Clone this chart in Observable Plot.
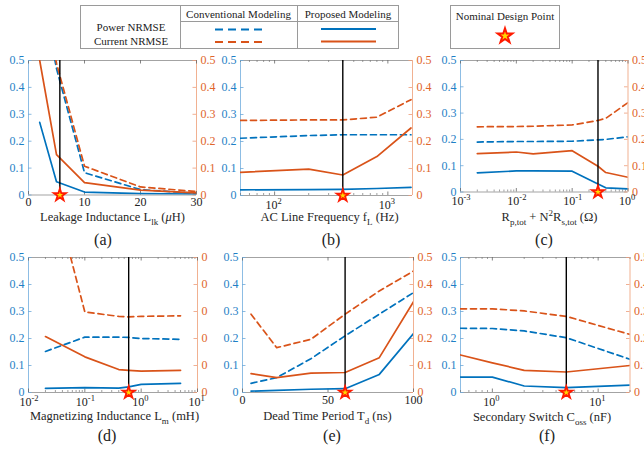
<!DOCTYPE html>
<html><head><meta charset="utf-8">
<script src="https://cdn.jsdelivr.net/npm/d3@7"></script>
<script src="https://cdn.jsdelivr.net/npm/@observablehq/plot@0.6"></script>
<style>
body{margin:0;background:#fff;}
#c{position:relative;width:644px;height:454px;overflow:hidden;font-family:"Liberation Serif","Times New Roman",serif;background:#fff;}
.t{position:absolute;white-space:nowrap;transform:translate(-50%,-50%);font-size:12.5px;color:#262626;line-height:1;}
.pl{position:absolute;white-space:nowrap;transform:translate(-50%,-50%);font-size:16px;color:#222;line-height:1;}
.sb{font-size:9px;vertical-align:-4px;}
.sp{font-size:9px;vertical-align:5px;}
</style></head><body><div id="c"></div>
<script>
// ---------- shared ----------
const yTicks = [0, 0.1, 0.2, 0.3, 0.4, 0.5];
const yTickLabels = ["0", "0.1", "0.2", "0.3", "0.4", "0.5"];
const dRightLabels = ["0", "0", "0", "0", "0", "0"];
const legendHeaders = ["Conventional Modeling", "Proposed Modeling"];
const legendRows = ["Power NRMSE", "Current NRMSE"];
const nominalLabel = "Nominal Design Point";
const panelLabels = ["(a)", "(b)", "(c)", "(d)", "(e)", "(f)"];

// ---------- (a) Leakage inductance ----------
const aX = [2, 5, 10, 20, 30];
const aPowerConv = [0.8, 0.47, 0.083, 0.02, 0.006];
const aCurrentConv = [0.8, 0.49, 0.107, 0.03, 0.013];
const aPowerProp = [0.27, 0.049, 0.011, 0.005, 0.003];
const aCurrentProp = [0.5, 0.15, 0.046, 0.018, 0.008];
const aNominal = 5.6;
const aTicks = [0, 10, 20, 30];
const aTickLabels = ["0", "10", "20", "30"];

// ---------- (b) AC line frequency ----------
const bX = [50, 200, 400, 800, 1600];
const bPowerConv = [0.212, 0.222, 0.225, 0.225, 0.225];
const bCurrentConv = [0.278, 0.28, 0.28, 0.29, 0.355];
const bPowerProp = [0.021, 0.022, 0.023, 0.026, 0.03];
const bCurrentProp = [0.086, 0.098, 0.076, 0.144, 0.25];
const bNominal = 400;
const bTicks = [100, 1000];
const bTickExp = ["2", "3"];

// ---------- (c) winding resistance ----------
const cX = [0.002, 0.01, 0.02, 0.1, 0.29, 0.4, 1];
const cPowerConv = [0.19, 0.192, 0.192, 0.193, 0.198, 0.2, 0.21];
const cCurrentConv = [0.248, 0.249, 0.25, 0.255, 0.272, 0.28, 0.34];
const cPowerProp = [0.073, 0.08, 0.08, 0.079, 0.03, 0.016, 0.012];
const cCurrentProp = [0.146, 0.152, 0.145, 0.157, 0.098, 0.074, 0.056];
const cNominal = 0.29;
const cTicks = [0.001, 0.01, 0.1, 1];
const cTickExp = ["-3", "-2", "-1", "0"];

// ---------- (d) magnetizing inductance ----------
const dX = [0.02, 0.1, 0.4, 0.6, 1, 5];
const dPowerConv = [0.152, 0.205, 0.205, 0.204, 0.2, 0.197];
const dCurrentConv = [0.86, 0.298, 0.282, 0.28, 0.282, 0.284];
const dPowerProp = [0.015, 0.018, 0.016, 0.021, 0.03, 0.034];
const dCurrentProp = [0.207, 0.132, 0.085, 0.082, 0.079, 0.082];
const dNominal = 0.6;
const dTicks = [0.01, 0.1, 1, 10];
const dTickExp = ["-2", "-1", "0", "1"];

// ---------- (e) dead time ----------
const eX = [5, 20, 40, 60, 80, 100];
const ePowerConv = [0.034, 0.055, 0.125, 0.21, 0.29, 0.37];
const eCurrentConv = [0.29, 0.166, 0.197, 0.29, 0.376, 0.45];
const ePowerProp = [0.005, 0.008, 0.012, 0.014, 0.067, 0.218];
const eCurrentProp = [0.07, 0.055, 0.072, 0.074, 0.129, 0.336];
const eNominal = 60;
const eTicks = [0, 50, 100];
const eTickLabels = ["0", "50", "100"];

// ---------- (f) secondary switch Coss ----------
const fX = [0.5, 1, 2, 5, 20];
const fPowerConv = [0.238, 0.237, 0.228, 0.203, 0.123];
const fCurrentConv = [0.31, 0.31, 0.302, 0.282, 0.215];
const fPowerProp = [0.057, 0.057, 0.024, 0.018, 0.027];
const fCurrentProp = [0.139, 0.11, 0.082, 0.076, 0.10];
const fNominal = 5;
const fTicks = [1, 10];
const fTickExp = ["0", "1"];

const blue = "#0072BD", orange = "#D95319";
const blueText = "#1f7fc6", orangeText = "#e0642b";
const root = document.getElementById("c");

function panel(p) {
  const mL = 30, mR = 30, mT = 12, mB = 30;
  const W = p.R - p.L, H = p.B - p.T;
  const marks = [];
  // frame
  marks.push(Plot.ruleY([0, 0.5], {stroke: "#a3a3a3", strokeWidth: 1}));
  marks.push(Plot.ruleX([p.domain[0]], {stroke: "#8dbde4", strokeWidth: 1}));
  marks.push(Plot.ruleX([p.domain[1]], {stroke: "#f1b191", strokeWidth: 1}));
  // minor ticks (log)
  if (p.log) {
    const minor = d3.scaleLog().domain(p.domain).ticks()
      .filter(t => Math.abs(Math.log10(t) - Math.round(Math.log10(t))) > 1e-6);
    marks.push(Plot.ruleX(minor, {x: d => d, insetTop: H - 2, stroke: "#777", strokeWidth: 0.7}));
    marks.push(Plot.ruleX(minor, {x: d => d, insetBottom: H - 2, stroke: "#777", strokeWidth: 0.7}));
  }
  // major x ticks
  marks.push(Plot.ruleX(p.ticks, {x: d => d, insetTop: H - 3.5, stroke: "#666", strokeWidth: 0.8}));
  marks.push(Plot.ruleX(p.ticks, {x: d => d, insetBottom: H - 3.5, stroke: "#666", strokeWidth: 0.8}));
  // y ticks
  marks.push(Plot.ruleY(yTicks, {y: d => d, insetRight: W - 3.5, stroke: "#6fa9d9", strokeWidth: 0.8}));
  marks.push(Plot.ruleY(yTicks, {y: d => d, insetLeft: W - 3.5, stroke: "#ec9c78", strokeWidth: 0.8}));
  // y labels
  marks.push(Plot.text(yTicks, {y: d => d, text: (d, i) => yTickLabels[i], frameAnchor: "left", textAnchor: "end", dx: -4, fill: blueText}));
  const rl = p.rightLabels || yTickLabels;
  marks.push(Plot.text(yTicks, {y: d => d, text: (d, i) => rl[i], frameAnchor: "right", textAnchor: "start", dx: 4, fill: orangeText}));
  // x labels
  if (p.log) {
    marks.push(Plot.text(p.ticks, {x: d => d, text: () => "10", frameAnchor: "bottom", dy: 13, dx: 3, textAnchor: "end", fill: "#222"}));
    marks.push(Plot.text(p.ticks, {x: d => d, text: (d, i) => p.exp[i], frameAnchor: "bottom", dy: 8, dx: 3, textAnchor: "start", fontSize: 8.5, fill: "#222"}));
  } else {
    marks.push(Plot.text(p.ticks, {x: d => d, text: (d, i) => p.tickLabels[i], frameAnchor: "bottom", dy: 11, fill: "#222"}));
  }
  // series
  const sets = [[p.powerConv, blue, "6,4"], [p.currentConv, orange, "6,4"], [p.powerProp, blue, null], [p.currentProp, orange, null]];
  for (const [ys, c, dash] of sets) {
    const rows = p.x.map((x, i) => ({x, y: ys[i]}));
    const o = {x: "x", y: "y", stroke: c, strokeWidth: 1.7, clip: true};
    if (dash) o.strokeDasharray = dash;
    marks.push(Plot.line(rows, o));
  }
  // nominal design point
  marks.push(Plot.ruleX([p.nominal], {x: d => d, stroke: "#000", strokeWidth: 1.4}));
  marks.push(Plot.dot([p.nominal], {x: d => d, y: () => 0, symbol: "star", r: 3.8, fill: "#ffd800", stroke: "#ff1a00", strokeWidth: 1.8}));

  const svg = Plot.plot({
    width: W + mL + mR, height: H + mT + mB,
    marginLeft: mL, marginRight: mR, marginTop: mT, marginBottom: mB,
    x: {type: p.log ? "log" : "linear", domain: p.domain, axis: null},
    y: {domain: [0, 0.5], axis: null},
    style: {fontFamily: "'Liberation Serif', serif", fontSize: "12px", background: "transparent", overflow: "visible"},
    marks
  });
  svg.style.position = "absolute";
  svg.style.left = (p.L - mL) + "px";
  svg.style.top = (p.T - mT) + "px";
  root.appendChild(svg);
}

panel({L: 28, R: 196, T: 59.5, B: 194, domain: [0, 30], x: aX, powerConv: aPowerConv, currentConv: aCurrentConv, powerProp: aPowerProp, currentProp: aCurrentProp, nominal: aNominal, ticks: aTicks, tickLabels: aTickLabels});
panel({L: 240, R: 412, T: 59.5, B: 194.5, log: true, domain: [50, 1650], x: bX, powerConv: bPowerConv, currentConv: bCurrentConv, powerProp: bPowerProp, currentProp: bCurrentProp, nominal: bNominal, ticks: bTicks, exp: bTickExp});
panel({L: 459.5, R: 627, T: 59.5, B: 191, log: true, domain: [0.001, 1], x: cX, powerConv: cPowerConv, currentConv: cCurrentConv, powerProp: cPowerProp, currentProp: cCurrentProp, nominal: cNominal, ticks: cTicks, exp: cTickExp});
panel({L: 28, R: 197, T: 256.5, B: 391.5, log: true, domain: [0.01, 10], x: dX, powerConv: dPowerConv, currentConv: dCurrentConv, powerProp: dPowerProp, currentProp: dCurrentProp, nominal: dNominal, ticks: dTicks, exp: dTickExp, rightLabels: dRightLabels});
panel({L: 242, R: 413, T: 256.5, B: 391.5, domain: [0, 100], x: eX, powerConv: ePowerConv, currentConv: eCurrentConv, powerProp: ePowerProp, currentProp: eCurrentProp, nominal: eNominal, ticks: eTicks, tickLabels: eTickLabels});
panel({L: 459.5, R: 629, T: 256.5, B: 391.5, log: true, domain: [0.5, 20], x: fX, powerConv: fPowerConv, currentConv: fCurrentConv, powerProp: fPowerProp, currentProp: fCurrentProp, nominal: fNominal, ticks: fTicks, exp: fTickExp});

// axis titles and panel labels
const titles = [
  [112.5, 219, 'Leakage Inductance L<span class="sb">lk</span> (<i>&mu;</i>H)'],
  [329.5, 219, 'AC Line Frequency f<span class="sb">L</span> (Hz)'],
  [549.5, 218, 'R<span class="sb">p,tot</span> + N<span class="sp">2</span>R<span class="sb">s,tot</span> (&Omega;)'],
  [114.5, 418, 'Magnetizing Inductance L<span class="sb">m</span> (mH)'],
  [327.5, 418, 'Dead Time Period T<span class="sb">d</span> (ns)'],
  [542, 419, 'Secondary Switch C<span class="sb">oss</span> (nF)']
];
for (const [x, y, h] of titles) {
  const d = document.createElement("div");
  d.className = "t"; d.style.left = x + "px"; d.style.top = y + "px"; d.innerHTML = h;
  root.appendChild(d);
}
const labelPos = [[103, 240], [331, 240], [544, 240], [107, 436], [332, 436], [547, 436]];
labelPos.forEach(([x, y], i) => {
  const d = document.createElement("div");
  d.className = "pl"; d.style.left = x + "px"; d.style.top = y + "px"; d.textContent = panelLabels[i];
  root.appendChild(d);
});

// legend
const leg = d3.create("svg").attr("width", 644).attr("height", 54)
  .style("position", "absolute").style("left", "0px").style("top", "0px");
const bc = "#9a9a9a";
leg.append("rect").attr("x", 80.5).attr("y", 5.5).attr("width", 318).attr("height", 43).attr("fill", "#fff").attr("stroke", bc);
leg.append("line").attr("x1", 180.5).attr("x2", 180.5).attr("y1", 5.5).attr("y2", 48.5).attr("stroke", bc);
leg.append("line").attr("x1", 297.5).attr("x2", 297.5).attr("y1", 5.5).attr("y2", 48.5).attr("stroke", bc);
leg.append("line").attr("x1", 180.5).attr("x2", 398.5).attr("y1", 21.5).attr("y2", 21.5).attr("stroke", bc);
leg.append("rect").attr("x", 450.5).attr("y", 5.5).attr("width", 109).attr("height", 43).attr("fill", "#fff").attr("stroke", bc);
leg.append("line").attr("x1", 215).attr("x2", 266).attr("y1", 29.5).attr("y2", 29.5).attr("stroke", blue).attr("stroke-width", 2).attr("stroke-dasharray", "8,5");
leg.append("line").attr("x1", 215).attr("x2", 266).attr("y1", 42).attr("y2", 42).attr("stroke", orange).attr("stroke-width", 2).attr("stroke-dasharray", "8,5");
leg.append("line").attr("x1", 321).attr("x2", 376).attr("y1", 29).attr("y2", 29).attr("stroke", blue).attr("stroke-width", 2);
leg.append("line").attr("x1", 321).attr("x2", 376).attr("y1", 41.5).attr("y2", 41.5).attr("stroke", orange).attr("stroke-width", 2);
leg.append("path").attr("transform", "translate(505,36)").attr("d", d3.symbol(d3.symbolStar, Math.PI * 4.6 * 4.6)())
  .attr("fill", "#ffd800").attr("stroke", "#ff1a00").attr("stroke-width", 2);
const lg = leg.append("g").attr("font-family", "'Liberation Serif', serif").attr("font-size", 11).attr("fill", "#222");
lg.append("text").attr("x", 238.5).attr("y", 14).attr("dy", "0.35em").attr("text-anchor", "middle").text(legendHeaders[0]);
lg.append("text").attr("x", 348).attr("y", 14).attr("dy", "0.35em").attr("text-anchor", "middle").text(legendHeaders[1]);
lg.append("text").attr("x", 131).attr("y", 27).attr("dy", "0.35em").attr("text-anchor", "middle").text(legendRows[0]);
lg.append("text").attr("x", 131).attr("y", 41.5).attr("dy", "0.35em").attr("text-anchor", "middle").text(legendRows[1]);
lg.append("text").attr("x", 505).attr("y", 16).attr("dy", "0.35em").attr("text-anchor", "middle").text(nominalLabel);
root.appendChild(leg.node());
</script>
</body></html>
